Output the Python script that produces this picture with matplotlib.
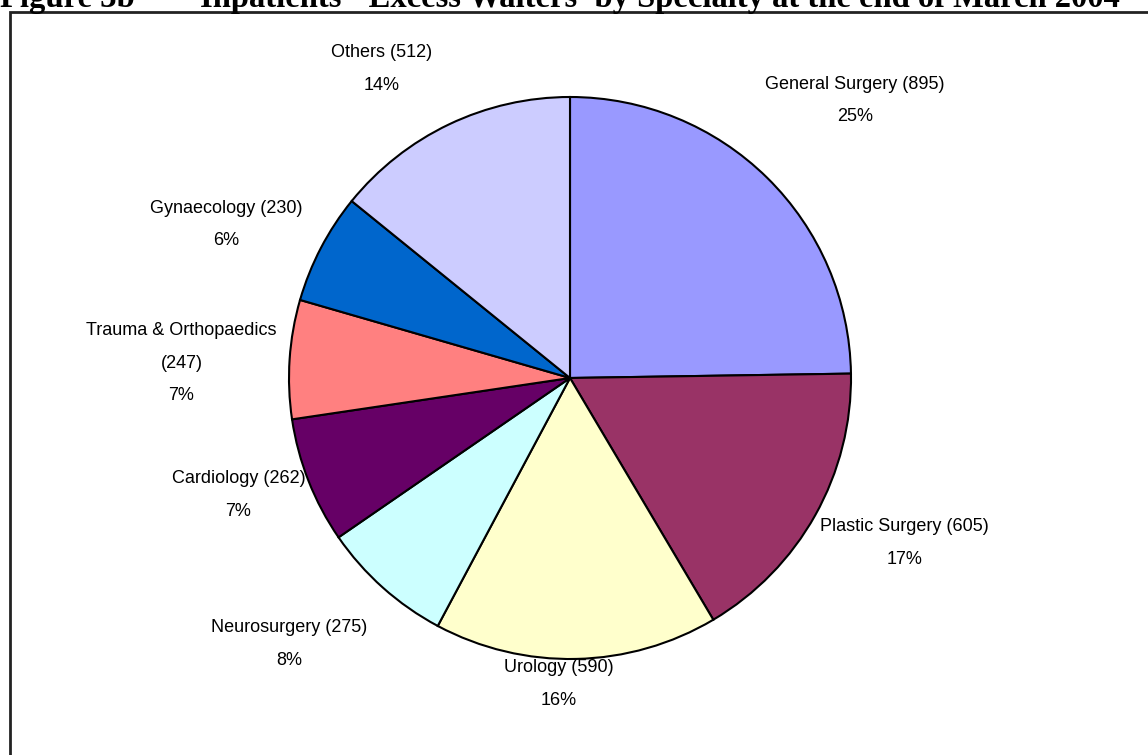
import numpy as np
import matplotlib.pyplot as plt
from matplotlib.patches import Rectangle

# data (clockwise from 12 o'clock)
specialties = ["General Surgery", "Plastic Surgery", "Urology", "Neurosurgery",
               "Cardiology", "Trauma & Orthopaedics", "Gynaecology", "Others"]
waiters = [895, 605, 590, 275, 262, 247, 230, 512]

colors = ["#9999FF", "#993366", "#FFFFCC", "#CCFFFF",
          "#660066", "#FF8080", "#0066CC", "#CCCCFF"]
# label anchor positions in pie-radius units (Excel placed these by hand-ish)
label_pos = [(1.015, 0.988), (1.19, -0.587), (-0.04, -1.09), (-0.998, -0.947),
             (-1.18, -0.417), (-1.383, 0.053), (-1.223, 0.546), (-0.67, 1.099)]

W, H = 1148, 755
fig = plt.figure(figsize=(W / 100, H / 100), dpi=100)
fig.patch.set_facecolor("white")

# frame around the chart (runs off right and bottom)
fig.patches.append(Rectangle((10 / W, -0.05), 1.2, 1 - 12 / H + 0.05,
                             transform=fig.transFigure, fill=False,
                             edgecolor="#222222", linewidth=2))

# title, clipped at top like the source
title_kw = dict(fontsize=23.5, fontweight="bold", family="Liberation Serif",
                va="baseline", ha="left")
fig.text(0 / W, 1 - 7.5 / H, "Figure 3b", **title_kw)
fig.text(200 / W, 1 - 7.5 / H,
         "Inpatients - Excess Waiters' by Specialty at the end of March 2004",
         **title_kw)

cx, cy, R = 570, 378, 281
ax = fig.add_axes([(cx - R) / W, (H - cy - R) / H, 2 * R / W, 2 * R / H])
wedges, _ = ax.pie(waiters, colors=colors, startangle=90, counterclock=False,
                   radius=1, wedgeprops=dict(edgecolor="black", linewidth=1.5))
ax.set_xlim(-1, 1)
ax.set_ylim(-1, 1)
ax.axis("off")

total = sum(waiters)
for name, n, (lx, ly) in zip(specialties, waiters, label_pos):
    pct = round(100 * n / total)
    if name == "Trauma & Orthopaedics":
        txt = f"{name}\n({n})\n{pct}%"
    else:
        txt = f"{name} ({n})\n{pct}%"
    ax.text(lx, ly, txt, ha="center", va="center", fontsize=13,
            family="Liberation Sans", linespacing=2.2)

fig.savefig("out.png", dpi=100)
